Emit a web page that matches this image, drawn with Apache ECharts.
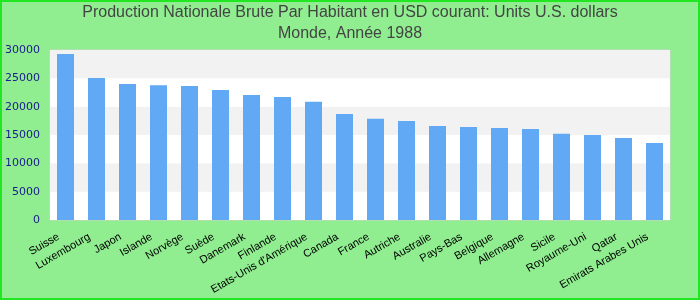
<!DOCTYPE html>
<html><head><meta charset="utf-8">
<script src="https://cdn.jsdelivr.net/npm/echarts@6/dist/echarts.min.js"></script>
<style>html,body{margin:0;padding:0;}#c{width:700px;height:300px;}</style>
</head><body><div id="c"></div>
<script>
const titleLines = ["Production Nationale Brute Par Habitant en USD courant: Units U.S. dollars", "Monde, Année 1988"];
const categories = ["Suisse","Luxembourg","Japon","Islande","Norvège","Suède","Danemark","Finlande","Etats-Unis d'Amérique","Canada","France","Autriche","Australie","Pays-Bas","Belgique","Allemagne","Sicile","Royaume-Uni","Qatar","Emirats Arabes Unis"];
const values = [29300,25050,24000,23800,23650,22950,22050,21700,20850,18700,17850,17450,16600,16400,16250,16050,15200,15000,14450,13600];
const yTicks = {min:0, max:30000, interval:5000};

const chart = echarts.init(document.getElementById('c'), null, {renderer:'canvas'});
chart.setOption({
  backgroundColor:'#90ee90',
  animation:false,
  title:{
    text:titleLines.join('\n'),
    left:'center', top:2, padding:0,
    textStyle:{fontFamily:'Liberation Sans', fontSize:16, fontWeight:'normal', color:'#444444', lineHeight:21}
  },
  graphic:[{type:'rect', shape:{x:1,y:1,width:698,height:298}, style:{fill:'none', stroke:'#22e622', lineWidth:2}, z:100}],
  grid:{left:50, right:30, top:50, bottom:80, show:true, borderColor:'#d0d0d0', borderWidth:1, backgroundColor:'#ffffff'},
  xAxis:{
    type:'category', data:categories,
    axisLine:{show:false}, axisTick:{show:false},
    axisLabel:{rotate:30, interval:0, fontFamily:'Liberation Sans', fontSize:11, color:'#000000', margin:12, padding:[0,8,0,0]}
  },
  yAxis:{
    type:'value', min:yTicks.min, max:yTicks.max, interval:yTicks.interval,
    axisLine:{show:false}, axisTick:{show:false},
    splitLine:{show:false},
    splitArea:{show:true, areaStyle:{color:['#ffffff','#f2f2f2']}},
    axisLabel:{fontFamily:'DejaVu Sans', fontSize:11, color:'#1a1a8c', margin:10, formatter:function(v){return String(v);}}
  },
  series:[{type:'bar', data:values, barWidth:17, itemStyle:{color:'#61a8f5'}}]
});
</script></body></html>
